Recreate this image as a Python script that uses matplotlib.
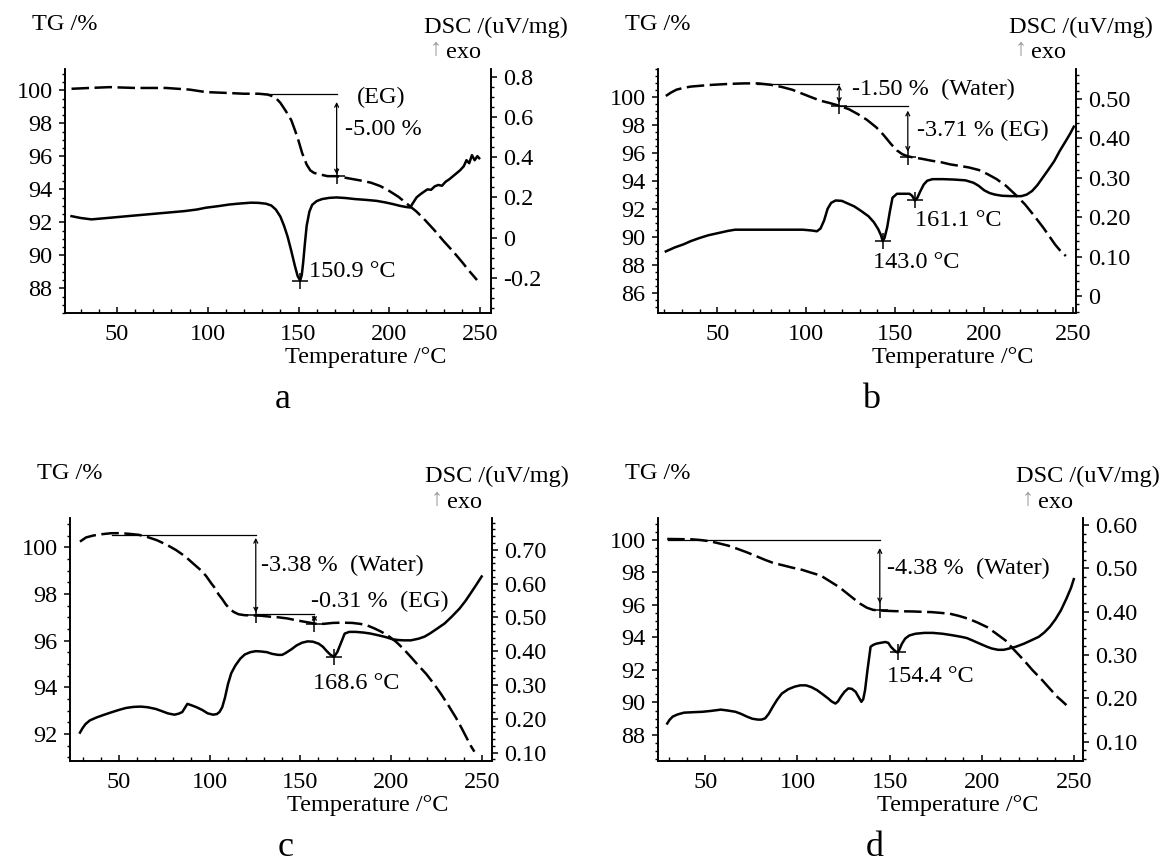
import matplotlib
matplotlib.use("Agg")
import matplotlib.pyplot as plt
from matplotlib.ticker import AutoMinorLocator

plt.rcParams['font.family'] = ['Liberation Serif', 'DejaVu Serif']
plt.rcParams['font.size'] = 17.5

W, H = 1161, 865   # figure size in pixels
FS = 17.5          # text size of ticks, titles and notes

# ---- panel a : TG (dashed, left axis) and DSC (solid, right axis) ----
tg_a_T = [25, 35, 46, 60, 77, 90, 99, 110, 120, 128,
          133, 137, 140, 143, 146, 148, 150, 152, 154.5, 156.5,
          158.5, 162, 166, 171, 176, 181, 186, 190, 195, 200,
          205, 210, 215, 220, 225, 230, 235, 240, 244, 248.3]
tg_a = [100.1, 100.15, 100.2, 100.15, 100.15, 100.05, 99.9, 99.85, 99.8, 99.8,
        99.75, 99.6, 99.25, 98.75, 98.2, 97.6, 96.95, 96.2, 95.5, 95.15,
        95.0, 94.9, 94.8, 94.8, 94.7, 94.6, 94.5, 94.4, 94.2, 93.9,
        93.55, 93.1, 92.65, 92.1, 91.5, 90.85, 90.25, 89.6, 89.05, 88.5]
dsc_a_T = [25, 30, 36, 46, 57, 67, 77, 87, 94, 99,
           106, 112, 118, 124, 128, 132, 135, 137.5, 140, 142,
           144, 146, 148, 149.5, 150.9, 151.8, 152.6, 153.5, 154.5, 156,
           157.5, 160, 163, 167, 171, 176, 181, 187, 193, 198,
           202, 206, 209.6, 211.5, 213, 215, 217, 219, 221, 223,
           225, 227, 229, 231, 233, 235, 237, 239, 241, 242.5,
           244, 245.5, 247, 248.5, 249.5]
dsc_a = [0.107, 0.098, 0.091, 0.099, 0.108, 0.116, 0.124, 0.132, 0.140, 0.149,
         0.157, 0.165, 0.170, 0.174, 0.173, 0.169, 0.160, 0.140, 0.105, 0.060,
         0.005, -0.065, -0.140, -0.190, -0.213, -0.185, -0.120, -0.030, 0.060, 0.130,
         0.163, 0.182, 0.192, 0.198, 0.200, 0.197, 0.192, 0.188, 0.183, 0.175,
         0.167, 0.158, 0.152, 0.150, 0.172, 0.200, 0.215, 0.228, 0.240, 0.238,
         0.255, 0.262, 0.258, 0.278, 0.290, 0.305, 0.320, 0.335, 0.355, 0.385,
         0.370, 0.410, 0.385, 0.405, 0.395]

# ---- panel b ----
tg_b_T = [21, 24, 27, 31, 35, 45, 56, 65, 73, 80,
          86, 92, 98, 103, 108, 113, 118.5, 124, 129, 134,
          139.4, 143.5, 147.7, 151, 154, 157, 160, 165, 171, 176,
          181, 186, 191.5, 197, 202, 207, 212.4, 217.5, 223, 228,
          233.3, 237, 240, 243, 246]
tg_b = [100.1, 100.35, 100.55, 100.68, 100.77, 100.88, 100.96, 101.0, 101.0, 100.9,
        100.75, 100.55, 100.25, 100.0, 99.76, 99.6, 99.4, 99.15, 98.8, 98.4,
        97.85, 97.3, 96.65, 96.2, 95.93, 95.78, 95.7, 95.6, 95.45, 95.35,
        95.2, 95.1, 94.98, 94.8, 94.5, 94.15, 93.66, 93.05, 92.34, 91.55,
        90.67, 90.0, 89.45, 89.0, 88.64]
dsc_b_T = [21, 26, 31, 35, 40, 45, 50, 56, 60, 70,
           80, 90, 98, 103, 106, 108, 110, 112, 114, 116.5,
           120, 123, 127, 131, 135, 138, 140.5, 142, 143, 144,
           145.5, 147, 148.5, 151, 155, 158, 159.5, 161.1, 162.5, 164,
           166, 168, 171, 177, 183, 189.5, 194, 197, 200, 203,
           206, 210, 215, 221, 224, 227, 230, 233, 236, 239.5,
           242.5, 246, 248.5, 250.5]
dsc_b = [0.114, 0.124, 0.132, 0.140, 0.148, 0.155, 0.160, 0.166, 0.169, 0.169,
         0.169, 0.169, 0.169, 0.167, 0.165, 0.172, 0.192, 0.222, 0.237, 0.243,
         0.242, 0.236, 0.228, 0.216, 0.203, 0.188, 0.170, 0.155, 0.140, 0.148,
         0.175, 0.215, 0.250, 0.260, 0.260, 0.260, 0.255, 0.243, 0.250, 0.265,
         0.283, 0.293, 0.297, 0.297, 0.296, 0.294, 0.288, 0.280, 0.269, 0.262,
         0.258, 0.255, 0.254, 0.254, 0.258, 0.267, 0.282, 0.301, 0.320, 0.343,
         0.368, 0.394, 0.413, 0.430]

# ---- panel c ----
tg_c_T = [28.6, 32, 36, 41, 46, 51, 56, 61, 66, 71,
          76.5, 81.5, 86.7, 91, 95, 98, 101, 103, 105, 107,
          109, 111, 113.3, 116, 119.4, 124, 128, 133, 138, 143,
          148, 153, 158, 163, 168, 173, 178.6, 183, 187, 191,
          195, 199, 203, 207, 211, 215, 219.4, 223.5, 227.6, 231.5,
          235.7, 239, 242, 244, 246]
tg_c = [100.24, 100.42, 100.5, 100.56, 100.6, 100.6, 100.57, 100.53, 100.43, 100.3,
        100.1, 99.88, 99.6, 99.3, 99.03, 98.78, 98.45, 98.25, 97.98, 97.78,
        97.55, 97.37, 97.23, 97.13, 97.09, 97.08, 97.07, 97.03, 97.0, 96.95,
        96.87, 96.8, 96.73, 96.72, 96.76, 96.77, 96.76, 96.72, 96.65, 96.52,
        96.37, 96.18, 95.94, 95.64, 95.3, 94.95, 94.58, 94.17, 93.72, 93.25,
        92.72, 92.25, 91.8, 91.5, 91.25]
dsc_c_T = [28.6, 30, 31.6, 34, 37.8, 42, 45.9, 50, 54, 58,
           62, 66, 70.4, 74, 77, 80.6, 83, 85, 87.8, 90,
           92.9, 96, 99, 102, 104.1, 105.5, 107, 108.5, 110.2, 112,
           114.3, 117, 119.4, 122.5, 125.5, 128.5, 131.6, 134.5, 137.8, 140,
           141.8, 145, 148, 151, 154.1, 157, 160.2, 162.5, 164.3, 166.5,
           168.6, 170.4, 172.5, 174.5, 177, 180.6, 185, 188.8, 193, 196.9,
           201, 204, 207.1, 211, 215.3, 218.5, 221.4, 225, 229.6, 233.5,
           237.8, 241, 243.9, 247, 250]
dsc_c = [0.159, 0.172, 0.184, 0.195, 0.204, 0.212, 0.219, 0.226, 0.232, 0.235,
         0.236, 0.234, 0.229, 0.222, 0.216, 0.212, 0.215, 0.220, 0.244, 0.240,
         0.234, 0.226, 0.216, 0.212, 0.214, 0.220, 0.234, 0.262, 0.303, 0.335,
         0.358, 0.378, 0.390, 0.397, 0.400, 0.399, 0.397, 0.392, 0.389, 0.389,
         0.394, 0.405, 0.417, 0.425, 0.429, 0.428, 0.422, 0.413, 0.402, 0.390,
         0.383, 0.397, 0.425, 0.452, 0.457, 0.457, 0.455, 0.452, 0.447, 0.442,
         0.435, 0.433, 0.432, 0.432, 0.437, 0.443, 0.452, 0.465, 0.482, 0.502,
         0.526, 0.548, 0.571, 0.596, 0.621]

# ---- panel d ----
tg_d_T = [29.3, 36, 42.4, 47, 52.4, 57, 62.4, 67, 72.5, 77,
          82.5, 87, 92.5, 97, 102.6, 107, 112.6, 117, 122.6, 126.5,
          130.6, 134, 137.7, 141, 144.7, 148, 152.7, 157, 162.7, 167,
          172.8, 177, 182.8, 187.5, 192.8, 197.5, 202.9, 207.5, 212.9, 217.5,
          222.9, 227.5, 232.9, 237, 241, 243.5, 246]
tg_d = [100.06, 100.05, 100.04, 100.0, 99.92, 99.8, 99.65, 99.47, 99.24, 99.03,
        98.77, 98.58, 98.43, 98.3, 98.16, 98.0, 97.81, 97.5, 97.1, 96.75,
        96.38, 96.08, 95.83, 95.7, 95.66, 95.64, 95.62, 95.61, 95.6, 95.58,
        95.56, 95.52, 95.46, 95.33, 95.15, 94.93, 94.64, 94.27, 93.82, 93.25,
        92.6, 92.0, 91.37, 90.85, 90.35, 90.1, 89.84]
dsc_d_T = [29.3, 30.5, 32.3, 35, 38.4, 43, 48.4, 53, 58.4, 62,
           66.4, 69.5, 72.5, 75.5, 78.5, 80.5, 82.5, 84.5, 86.5, 89,
           91.5, 95, 98.5, 101.5, 104.6, 107.5, 110.6, 113.5, 116.6, 118.5,
           120.6, 122, 123.6, 125.5, 127.6, 129.5, 131.6, 133.2, 134.7, 135.7,
           136.7, 138, 139.7, 141, 142.7, 145, 147.7, 149.3, 150.7, 152.3,
           153.7, 154.4, 155.3, 156.7, 158.5, 160.7, 164, 168.8, 173.5, 178.8,
           183.5, 188.8, 192, 194.8, 198.5, 202.9, 205.5, 208.9, 212, 214.9,
           218.5, 222.9, 227, 231, 234, 237, 240, 243, 246, 248.5,
           250]
dsc_d = [0.142, 0.150, 0.158, 0.163, 0.167, 0.168, 0.169, 0.171, 0.174, 0.172,
         0.169, 0.164, 0.158, 0.153, 0.151, 0.151, 0.154, 0.165, 0.180, 0.197,
         0.211, 0.221, 0.227, 0.230, 0.230, 0.226, 0.219, 0.210, 0.200, 0.193,
         0.188, 0.193, 0.204, 0.215, 0.223, 0.222, 0.215, 0.203, 0.192, 0.198,
         0.219, 0.265, 0.319, 0.323, 0.326, 0.328, 0.330, 0.328, 0.319, 0.312,
         0.307, 0.306, 0.312, 0.326, 0.338, 0.345, 0.349, 0.351, 0.351, 0.349,
         0.346, 0.342, 0.339, 0.334, 0.327, 0.319, 0.315, 0.312, 0.312, 0.315,
         0.319, 0.326, 0.334, 0.342, 0.352, 0.365, 0.382, 0.403, 0.430, 0.455,
         0.475]

# ---- ticks ----
x_ticks = [50, 100, 150, 200, 250]
tg_ticks_a = [88, 90, 92, 94, 96, 98, 100]
tg_ticks_b = [86, 88, 90, 92, 94, 96, 98, 100]
tg_ticks_c = [92, 94, 96, 98, 100]
tg_ticks_d = [88, 90, 92, 94, 96, 98, 100]
dsc_ticks_a = [-0.2, 0, 0.2, 0.4, 0.6, 0.8]
dsc_labels_a = ['-0.2', '0', '0.2', '0.4', '0.6', '0.8']
dsc_ticks_b = [0, 0.1, 0.2, 0.3, 0.4, 0.5]
dsc_labels_b = ['0', '0.10', '0.20', '0.30', '0.40', '0.50']
dsc_ticks_c = [0.1, 0.2, 0.3, 0.4, 0.5, 0.6, 0.7]
dsc_labels_c = ['0.10', '0.20', '0.30', '0.40', '0.50', '0.60', '0.70']
dsc_ticks_d = [0.1, 0.2, 0.3, 0.4, 0.5, 0.6]
dsc_labels_d = ['0.10', '0.20', '0.30', '0.40', '0.50', '0.60']

panels = [
    dict(letter='a', box=(65, 69, 491, 313), xlim=(21.4, 256),
         tg=(tg_a_T, tg_a), dsc=(dsc_a_T, dsc_a),
         ylim=(86.5, 101.3), y2lim=(-0.374, 0.838),
         yt=tg_ticks_a, y2t=dsc_ticks_a, y2l=dsc_labels_a, y2minor=4,
         hlines=[(99.8, 131, 171)], arrows=[(171, 99.3, 94.9)],
         crosses=[(171, 94.8)], dsc_crosses=[(150.9, -0.213)],
         texts=[(182, 99.55, '(EG)'), (175.5, 97.65, '-5.00 %'),
                (156, 89.0, '150.9 °C')]),
    dict(letter='b', box=(658, 69, 1076, 313), xlim=(16.6, 251.7),
         tg=(tg_b_T, tg_b), dsc=(dsc_b_T, dsc_b),
         ylim=(84.56, 102.03), y2lim=(-0.042, 0.576),
         yt=tg_ticks_b, y2t=dsc_ticks_b, y2l=dsc_labels_b, y2minor=5,
         hlines=[(100.96, 72.5, 118.5), (99.4, 118.5, 157.1)],
         arrows=[(118.5, 100.9, 99.6), (157.1, 99.05, 96.1)],
         crosses=[(118.5, 99.4), (157.1, 95.7)],
         dsc_crosses=[(143.0, 0.140), (161.1, 0.243)],
         texts=[(125.8, 100.6, '-1.50 %  (Water)'), (162.3, 97.6, '-3.71 % (EG)'),
                (161.3, 91.15, '161.1 °C'), (137.3, 88.16, '143.0 °C')]),
    dict(letter='c', box=(70, 518, 492, 761), xlim=(23.1, 255.7),
         tg=(tg_c_T, tg_c), dsc=(dsc_c_T, dsc_c),
         ylim=(90.85, 101.25), y2lim=(0.075, 0.794),
         yt=tg_ticks_c, y2t=dsc_ticks_c, y2l=dsc_labels_c, y2minor=5,
         hlines=[(100.53, 46, 125.5), (97.12, 125.5, 157.8)],
         arrows=[(125.5, 100.4, 97.2), (157.8, 97.1, 96.8)],
         crosses=[(125.5, 97.09), (157.8, 96.73)],
         dsc_crosses=[(168.6, 0.383)],
         texts=[(128.6, 99.24, '-3.38 %  (Water)'), (156.1, 97.66, '-0.31 %  (EG)'),
                (157.1, 94.15, '168.6 °C')]),
    dict(letter='d', box=(658, 518, 1083, 761), xlim=(24.3, 255),
         tg=(tg_d_T, tg_d), dsc=(dsc_d_T, dsc_d),
         ylim=(86.4, 101.35), y2lim=(0.0555, 0.616),
         yt=tg_ticks_d, y2t=dsc_ticks_d, y2l=dsc_labels_d, y2minor=5,
         hlines=[(100.0, 29.5, 144.7)], arrows=[(144.7, 99.5, 96.1)],
         crosses=[(144.7, 95.66)], dsc_crosses=[(154.4, 0.306)],
         texts=[(148.7, 98.22, '-4.38 %  (Water)'), (148.7, 91.57, '154.4 °C')]),
]

fig = plt.figure(figsize=(W / 100, H / 100), dpi=100)


def fx(px):
    return px / W


def fy(py):
    return 1 - py / H


for p in panels:
    l, t, r, b = p['box']
    ax = fig.add_axes([fx(l), fy(b), (r - l) / W, (b - t) / H])
    ax2 = ax.twinx()

    ax.plot(*p['tg'], color='k', lw=1.8, dashes=(7, 2.2))
    ax2.plot(*p['dsc'], color='k', lw=1.8)

    ax.set_xlim(*p['xlim'])
    ax.set_ylim(*p['ylim'])
    ax2.set_ylim(*p['y2lim'])

    ax.set_xticks(x_ticks)
    ax.set_yticks(p['yt'])
    ax2.set_yticks(p['y2t'])
    ax2.set_yticklabels(p['y2l'])
    ax.xaxis.set_minor_locator(AutoMinorLocator(5))
    ax.yaxis.set_minor_locator(AutoMinorLocator(4))
    ax2.yaxis.set_minor_locator(AutoMinorLocator(p['y2minor']))

    for a in (ax, ax2):
        a.spines['top'].set_visible(False)
        for s in a.spines.values():
            s.set_linewidth(1.2)
    ax.tick_params(axis='x', which='both', direction='in', pad=8, labelsize=FS)
    ax.tick_params(axis='x', which='major', length=4, width=1.1)
    ax.tick_params(axis='x', which='minor', length=3, width=1.0)
    ax.tick_params(axis='y', which='major', direction='out', length=4, width=1.1,
                   pad=5, labelsize=FS)
    ax.tick_params(axis='y', which='minor', direction='out', length=2.5, width=1.0)
    ax2.tick_params(axis='y', which='major', direction='out', length=4, width=1.1,
                    pad=5, labelsize=FS)
    ax2.tick_params(axis='y', which='minor', direction='out', length=2.5, width=1.0)

    # step annotations on the TG curve
    for y, x0, x1 in p['hlines']:
        ax.plot([x0, x1], [y, y], color='k', lw=0.9)
    for x, y0, y1 in p['arrows']:
        ax.annotate('', xy=(x, y1), xytext=(x, y0),
                    arrowprops=dict(arrowstyle='<->', lw=0.9, color='k',
                                    mutation_scale=7, shrinkA=0, shrinkB=0))
    for x, y in p['crosses']:
        ax.plot(x, y, marker='+', ms=11, mew=1.1, color='k')
    for x, y in p['dsc_crosses']:
        ax2.plot(x, y, marker='+', ms=11, mew=1.1, color='k')
    for x, y, s in p['texts']:
        ax.text(x, y, s, ha='left', va='center', fontsize=FS)

    # axis titles around the frame
    fig.text(fx(l - 33), fy(t - 44), 'TG /%', ha='left', va='center', fontsize=FS)
    fig.text(fx(r + 77), fy(t - 42), 'DSC /(uV/mg)', ha='right', va='center',
             fontsize=FS)
    fig.text(fx(r - 55), fy(t - 19), '\u2191', ha='center', va='center',
             fontsize=FS, color='#9a9a9a')
    fig.text(fx(r - 10), fy(t - 16), 'exo', ha='right', va='center', fontsize=FS)
    fig.text(fx(l + 0.705 * (r - l)), fy(b + 45), 'Temperature /°C',
             ha='center', va='center', fontsize=FS)
    fig.text(fx(l + 0.51 * (r - l)), fy(b + 95), p['letter'],
             ha='center', va='baseline', fontsize=26)

fig.savefig('out.png', dpi=100)
